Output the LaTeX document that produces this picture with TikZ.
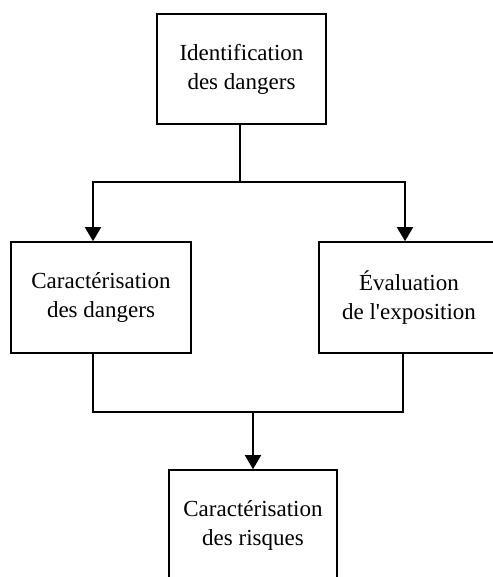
\documentclass[tikz,border=0pt]{standalone}
\usepackage{fontspec}
\setmainfont{Liberation Serif}
\usetikzlibrary{positioning, arrows.meta, calc}
\tikzset{
  box/.style={draw, line width=0.8pt, align=center, font=\fontsize{11.5}{14.5}\selectfont, minimum width=84.5pt, minimum height=55pt, inner sep=2pt},
  wide/.style={minimum width=90pt, minimum height=55.5pt},
  link/.style={line width=0.8pt},
  arr/.style={-{Triangle[width=8pt,length=7pt]}, line width=0.8pt}
}

\begin{document}
\begin{tikzpicture}
  \useasboundingbox (0,0) rectangle (246pt,-288.5pt);
  \node[box] (ident) at (120.75pt,-34.5pt) {Identification\\des dangers};
  \node[box,wide] (carac) at (50.5pt,-148.75pt) {Caract\'erisation\\des dangers};
  \node[box,wide] (expo) at (204.5pt,-148.75pt) {\'Evaluation\\de l\textquotesingle exposition};
  \node[box,minimum width=84pt] (risk) at (126.5pt,-262.5pt) {Caract\'erisation\\des risques};

  \coordinate (split) at (120pt,-91pt);
  \coordinate (join) at (126.5pt,-206pt);

  \draw[link] (ident.south -| split) -- (split);
  \draw[arr] (split) -| ([xshift=-4pt]carac.north);
  \draw[arr] (split) -| ([xshift=-2pt]expo.north);
  \draw[link] ([xshift=-4pt]carac.south) |- (join) -| ([xshift=-3pt]expo.south);
  \draw[arr] (join) -- (risk.north);
\end{tikzpicture}
\end{document}
